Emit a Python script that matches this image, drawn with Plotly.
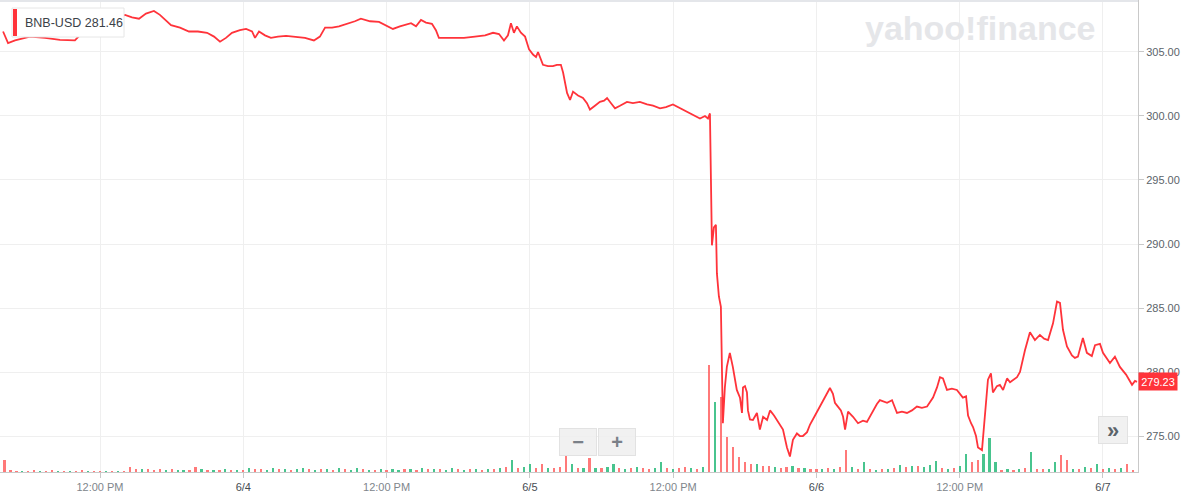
import plotly.graph_objects as go
import pandas as pd

# ---- price series (BNB-USD) ----
price_times = [
    "2023-06-03 03:53", "2023-06-03 04:18", "2023-06-03 04:53", "2023-06-03 06:08", "2023-06-03 07:24",
    "2023-06-03 08:39", "2023-06-03 09:54", "2023-06-03 10:30", "2023-06-03 12:00", "2023-06-03 13:15",
    "2023-06-03 14:06", "2023-06-03 14:41", "2023-06-03 15:16", "2023-06-03 15:51", "2023-06-03 16:31",
    "2023-06-03 17:01", "2023-06-03 17:22", "2023-06-03 17:57", "2023-06-03 18:42", "2023-06-03 19:27",
    "2023-06-03 20:12", "2023-06-03 20:58", "2023-06-03 21:33", "2023-06-03 22:03", "2023-06-03 22:33",
    "2023-06-03 23:03", "2023-06-03 23:43",
    "2023-06-04 00:14", "2023-06-04 00:44", "2023-06-04 00:59", "2023-06-04 01:19", "2023-06-04 01:49",
    "2023-06-04 02:19", "2023-06-04 02:54", "2023-06-04 03:35", "2023-06-04 04:20", "2023-06-04 05:10",
    "2023-06-04 05:55", "2023-06-04 06:25", "2023-06-04 06:51", "2023-06-04 07:26", "2023-06-04 08:01",
    "2023-06-04 08:46", "2023-06-04 09:21", "2023-06-04 09:51", "2023-06-04 10:37", "2023-06-04 11:22",
    "2023-06-04 11:57", "2023-06-04 12:32", "2023-06-04 13:07", "2023-06-04 13:33", "2023-06-04 14:03",
    "2023-06-04 14:28", "2023-06-04 14:53", "2023-06-04 15:18", "2023-06-04 15:48", "2023-06-04 16:08",
    "2023-06-04 16:23", "2023-06-04 17:19", "2023-06-04 18:29", "2023-06-04 19:24", "2023-06-04 20:15",
    "2023-06-04 20:55", "2023-06-04 21:25", "2023-06-04 21:50", "2023-06-04 22:10", "2023-06-04 22:25",
    "2023-06-04 22:40", "2023-06-04 22:55", "2023-06-04 23:15", "2023-06-04 23:36", "2023-06-04 23:56",
    "2023-06-05 00:16", "2023-06-05 00:31", "2023-06-05 00:41", "2023-06-05 00:56", "2023-06-05 01:06",
    "2023-06-05 01:31", "2023-06-05 01:56", "2023-06-05 02:16", "2023-06-05 02:36", "2023-06-05 02:47",
    "2023-06-05 02:57", "2023-06-05 03:07", "2023-06-05 03:22", "2023-06-05 03:37", "2023-06-05 04:02",
    "2023-06-05 04:27", "2023-06-05 04:47", "2023-06-05 05:02", "2023-06-05 05:27", "2023-06-05 05:52",
    "2023-06-05 06:13", "2023-06-05 06:28", "2023-06-05 06:48", "2023-06-05 07:08", "2023-06-05 07:33",
    "2023-06-05 08:08", "2023-06-05 08:38", "2023-06-05 09:13", "2023-06-05 09:49", "2023-06-05 10:19",
    "2023-06-05 10:54", "2023-06-05 11:24", "2023-06-05 11:59", "2023-06-05 12:34", "2023-06-05 13:10",
    "2023-06-05 13:40", "2023-06-05 14:15", "2023-06-05 14:40", "2023-06-05 14:55", "2023-06-05 15:05",
    "2023-06-05 15:10", "2023-06-05 15:15", "2023-06-05 15:25", "2023-06-05 15:35", "2023-06-05 15:40",
    "2023-06-05 15:50", "2023-06-05 16:00", "2023-06-05 16:05", "2023-06-05 16:10", "2023-06-05 16:20",
    "2023-06-05 16:30", "2023-06-05 16:45", "2023-06-05 17:00", "2023-06-05 17:20", "2023-06-05 17:36",
    "2023-06-05 17:46", "2023-06-05 17:51", "2023-06-05 18:01", "2023-06-05 18:11", "2023-06-05 18:16",
    "2023-06-05 18:26", "2023-06-05 18:41", "2023-06-05 19:01", "2023-06-05 19:16", "2023-06-05 19:32",
    "2023-06-05 19:52", "2023-06-05 20:07", "2023-06-05 20:27", "2023-06-05 20:42", "2023-06-05 20:57",
    "2023-06-05 21:12", "2023-06-05 21:32", "2023-06-05 21:47", "2023-06-05 22:02", "2023-06-05 22:22",
    "2023-06-05 22:37", "2023-06-05 22:52", "2023-06-05 23:13", "2023-06-05 23:28", "2023-06-05 23:53",
    "2023-06-06 00:18", "2023-06-06 00:43", "2023-06-06 00:53", "2023-06-06 01:08", "2023-06-06 01:23",
    "2023-06-06 01:33", "2023-06-06 01:48", "2023-06-06 02:03", "2023-06-06 02:14", "2023-06-06 02:24",
    "2023-06-06 02:39", "2023-06-06 03:04", "2023-06-06 03:29", "2023-06-06 03:54", "2023-06-06 04:14",
    "2023-06-06 04:44", "2023-06-06 05:04", "2023-06-06 05:19", "2023-06-06 05:55", "2023-06-06 06:20",
    "2023-06-06 06:45", "2023-06-06 07:10", "2023-06-06 07:35", "2023-06-06 08:00", "2023-06-06 08:25",
    "2023-06-06 08:50", "2023-06-06 09:16", "2023-06-06 09:46", "2023-06-06 10:06", "2023-06-06 10:21",
    "2023-06-06 10:36", "2023-06-06 10:56", "2023-06-06 11:21", "2023-06-06 11:46", "2023-06-06 12:16",
    "2023-06-06 12:32", "2023-06-06 12:37", "2023-06-06 12:42", "2023-06-06 12:57", "2023-06-06 13:07",
    "2023-06-06 13:22", "2023-06-06 13:32", "2023-06-06 13:52", "2023-06-06 14:07", "2023-06-06 14:22",
    "2023-06-06 14:37", "2023-06-06 14:47", "2023-06-06 15:07", "2023-06-06 15:22", "2023-06-06 15:38",
    "2023-06-06 15:58", "2023-06-06 16:13", "2023-06-06 16:33", "2023-06-06 16:48", "2023-06-06 17:03",
    "2023-06-06 17:18", "2023-06-06 17:28", "2023-06-06 17:53", "2023-06-06 18:18", "2023-06-06 18:43",
    "2023-06-06 19:04", "2023-06-06 19:24", "2023-06-06 19:49", "2023-06-06 20:09", "2023-06-06 20:24",
    "2023-06-06 20:39", "2023-06-06 20:59", "2023-06-06 21:24", "2023-06-06 21:39", "2023-06-06 21:54",
    "2023-06-06 22:19", "2023-06-06 22:39", "2023-06-06 23:04", "2023-06-06 23:20", "2023-06-06 23:45",
    "2023-06-07 00:00", "2023-06-07 00:20", "2023-06-07 00:35", "2023-06-07 01:00", "2023-06-07 01:25",
    "2023-06-07 01:56", "2023-06-07 02:26", "2023-06-07 02:41", "2023-06-07 02:51",
]
price_values = [
    306.6, 305.7, 305.9, 306.2, 306.1, 305.95, 305.9, 306.5, 307.2, 307.6,
    307.9, 307.7, 307.6, 308.0, 308.2, 307.9, 307.6, 307.1, 306.9, 306.6,
    306.6, 306.5, 306.2, 305.8, 306.1, 306.5, 306.7,
    306.8, 306.6, 306.1, 306.6, 306.3, 306.1, 306.2, 306.25, 306.2, 306.1,
    305.9, 306.2, 306.9, 306.9, 307.0, 307.2, 307.4, 307.6, 307.4, 307.35,
    307.1, 306.8, 307.0, 307.1, 307.25, 307.0, 307.5, 307.3, 307.2, 306.7,
    306.1, 306.1, 306.1, 306.2, 306.3, 306.5, 306.4, 305.9, 306.3, 307.25,
    306.5, 307.0, 306.5, 306.2, 305.2,
    304.8, 304.6, 305.0, 304.4, 304.0, 303.9, 303.9, 304.0, 304.0, 303.4,
    302.5, 301.8, 301.25, 301.9, 301.6, 301.4, 301.0, 300.5, 300.8, 301.1,
    301.2, 301.4, 301.0, 300.6, 300.8, 301.1, 301.0, 301.1, 300.9, 300.8,
    300.6, 300.7, 300.9, 300.6, 300.3, 300.1, 299.8, 300.0, 299.8, 300.2,
    294.0, 289.9, 291.3, 291.5, 287.7, 285.9, 285.1, 279.1, 276.0, 278.8,
    280.4, 281.5, 280.4, 278.6, 278.0, 276.8, 278.8, 278.9, 278.4, 277.0,
    276.3, 276.25, 276.8, 275.5, 276.5, 276.25, 277.0, 276.6, 276.25, 275.9,
    275.5, 274.1, 273.4, 274.7, 275.2, 275.0, 275.0, 275.3, 275.9, 276.6,
    277.3, 278.0, 278.4, 278.75, 278.3, 277.6, 277.3, 277.0, 276.5, 275.5,
    276.9, 276.5, 276.0, 276.2, 276.1, 277.0, 277.5, 277.8, 277.6, 277.8,
    276.8, 276.9, 276.8, 277.0, 277.3, 277.2, 277.3, 278.0, 278.8, 279.6,
    279.5, 278.6, 278.7, 278.6, 278.0, 278.1, 277.3, 276.6, 276.0, 275.7,
    275.0, 274.1, 273.9, 276.6, 279.4, 279.9, 278.4, 278.9, 279.0, 278.6,
    279.5, 279.2, 279.4, 279.6, 280.0, 281.2, 281.7, 283.1, 282.5, 282.9,
    282.6, 282.5, 283.8, 285.5, 285.4, 283.3, 282.0, 281.3, 281.1, 281.2,
    282.65, 281.5, 281.25, 282.1, 282.2, 281.5, 281.0, 280.7, 281.2, 280.4,
    279.8, 279.0, 279.3, 279.23,
]

# ---- volume (30-minute bars starting 2023-06-03 04:00), relative units ----
volume_start = "2023-06-03 04:00"
volume_values = [
    12, 2, 1, 1, 1, 2, 1, 1, 2, 1, 1, 1, 1, 2, 1, 1, 1, 1, 1, 1,
    1, 5, 3, 3, 3, 2, 3, 2, 3, 2, 2, 2, 5, 3, 2, 2, 2, 3, 2, 2,
    2, 4, 3, 3, 2, 4, 3, 3, 2, 3, 4, 3, 2, 3, 3, 2, 4, 3, 2, 4,
    3, 2, 2, 3, 2, 3, 2, 3, 3, 2, 4, 3, 3, 3, 2, 4, 3, 2, 3, 3,
    2, 3, 3, 4, 5, 12, 4, 5, 8, 4, 8, 4, 4, 5, 16, 8, 4, 4, 14, 4,
    4, 5, 8, 4, 3, 4, 5, 4, 3, 4, 10, 4, 3, 4, 5, 4, 3, 5, 107, 70,
    75, 35, 25, 15, 10, 8, 8, 6, 6, 5, 4, 5, 6, 4, 4, 3, 3, 3, 4, 3,
    5, 22, 5, 3, 10, 3, 2, 3, 3, 4, 7, 5, 6, 6, 5, 7, 11, 4, 3, 4,
    6, 18, 10, 12, 18, 34, 10, 2, 3, 2, 3, 4, 20, 3, 3, 3, 10, 17, 12, 3,
    3, 5, 4, 8, 3, 4, 3, 4, 8, 2,
]
volume_up = [
    0, 0, 0, 1, 0, 0, 1, 0, 0, 1, 0, 1, 0, 0, 1, 0, 0, 1, 0, 1,
    0, 0, 0, 1, 0, 0, 0, 1, 0, 1, 1, 0, 0, 1, 0, 1, 0, 1, 0, 1,
    0, 1, 0, 0, 1, 1, 0, 1, 0, 1, 1, 0, 1, 0, 1, 0, 1, 0, 1, 1,
    0, 1, 0, 1, 0, 1, 1, 0, 1, 0, 1, 0, 1, 0, 1, 1, 0, 1, 0, 1,
    0, 1, 0, 1, 0, 1, 0, 1, 1, 0, 0, 1, 0, 0, 0, 1, 0, 1, 0, 1,
    0, 1, 1, 0, 1, 0, 1, 0, 0, 1, 1, 0, 1, 0, 0, 1, 0, 1, 0, 1,
    0, 0, 0, 0, 0, 0, 1, 0, 0, 1, 0, 0, 1, 0, 1, 0, 0, 1, 0, 1,
    0, 0, 1, 0, 1, 0, 1, 0, 1, 0, 1, 0, 1, 0, 1, 1, 1, 0, 1, 0,
    1, 1, 0, 0, 1, 1, 1, 0, 1, 0, 1, 0, 1, 0, 0, 1, 1, 0, 0, 1,
    0, 1, 0, 1, 0, 1, 0, 1, 0, 0,
]

# ---- axis ticks ----
x_tick_vals = ["2023-06-03 12:00", "2023-06-04 00:00", "2023-06-04 12:00", "2023-06-05 00:00",
               "2023-06-05 12:00", "2023-06-06 00:00", "2023-06-06 12:00", "2023-06-07 00:00"]
x_tick_text = ["12:00 PM", "6/4", "12:00 PM", "6/5", "12:00 PM", "6/6", "12:00 PM", "6/7"]
y_tick_vals = [275, 280, 285, 290, 295, 300, 305]

symbol = "BNB-USD"
header_price = "281.46"
last_price = price_values[-1]

RED_LINE = "#ff333a"
GREEN_VOL = "rgba(52,190,130,0.9)"
RED_VOL = "rgba(255,98,98,0.85)"

volume_times = pd.date_range(volume_start, periods=len(volume_values), freq="30min")
volume_colors = [GREEN_VOL if u else RED_VOL for u in volume_up]

def tick_label(t):
    if "/" in t:
        return f'<span style="color:#464c52">{t}</span>'
    return f'<span style="color:#80868c">{t}</span>'

fig = go.Figure()
fig.add_trace(go.Bar(
    x=volume_times, y=volume_values, marker=dict(color=volume_colors, line=dict(width=0)),
    width=11 * 60 * 1000, yaxis="y", hoverinfo="skip", showlegend=False,
))
fig.add_trace(go.Scatter(
    x=pd.to_datetime(price_times), y=price_values, mode="lines",
    line=dict(color=RED_LINE, width=1.8), yaxis="y2", hoverinfo="skip", showlegend=False,
))

PW, PH = 1138.0, 472.0  # plot area size in px

fig.update_layout(
    width=1185, height=498,
    margin=dict(l=0, r=1185 - 1138, t=0, b=498 - 472),
    paper_bgcolor="white", plot_bgcolor="white",
    font=dict(family="Liberation Sans, Arial, sans-serif", size=11, color="#5b636a"),
    bargap=0,
    xaxis=dict(
        type="date",
        range=["2023-06-03 03:37:30", "2023-06-07 02:56"],
        tickvals=x_tick_vals, ticktext=[tick_label(t) for t in x_tick_text],
        showgrid=True, gridcolor="#efefef", gridwidth=1,
        showline=True, linecolor="#c9c9c9", linewidth=1,
        ticks="outside", ticklen=5, tickcolor="#c9c9c9",
        tickfont=dict(size=11), zeroline=False, automargin=False,
    ),
    yaxis=dict(visible=False, range=[0, 472], fixedrange=True),
    yaxis2=dict(
        overlaying="y", side="right", anchor="x",
        range=[272.19, 309.06],
        tickvals=y_tick_vals, ticktext=[f"{v:.2f}" for v in y_tick_vals],
        showgrid=True, gridcolor="#efefef", gridwidth=1,
        showline=True, linecolor="#c9c9c9", linewidth=1,
        ticks="outside", ticklen=5, tickcolor="#c9c9c9",
        tickfont=dict(size=11, color="#5b636a"), zeroline=False, automargin=False,
    ),
    shapes=[
        dict(type="line", xref="paper", yref="paper", x0=0, x1=1, y0=1 - 1 / PH, y1=1 - 1 / PH,
             line=dict(color="#e4e6ea", width=2)),
        # symbol label box + red marker
        dict(type="rect", xref="paper", yref="paper", x0=12 / PW, x1=124 / PW,
             y0=1 - 37 / PH, y1=1 - 8 / PH, fillcolor="white",
             line=dict(color="#e6e6e6", width=1), layer="above"),
        dict(type="rect", xref="paper", yref="paper", x0=13 / PW, x1=17 / PW,
             y0=1 - 36 / PH, y1=1 - 9 / PH, fillcolor=RED_LINE, line=dict(width=0), layer="above"),
    ],
    annotations=[
        # watermark
        dict(text="<b>yahoo!finance</b>", xref="paper", yref="paper", x=980 / PW, y=1 - 28 / PH,
             showarrow=False, font=dict(family="Liberation Sans", size=34, color="#e5e6e9"),
             xanchor="center", yanchor="middle"),
        # symbol label text
        dict(text=f"{symbol} {header_price}", xref="paper", yref="paper", x=23 / PW, y=1 - 22.5 / PH,
             xanchor="left", yanchor="middle", showarrow=False, align="left",
             font=dict(family="Liberation Sans", size=12.5, color="#3b4148")),
        # last price tag
        dict(text=f"{last_price:.2f}", xref="paper", yref="y2", x=1, y=last_price,
             xanchor="left", yanchor="middle", showarrow=False,
             bgcolor=RED_LINE, borderpad=2, width=34, height=13,
             font=dict(family="Liberation Sans", size=11, color="white")),
        # zoom buttons
        dict(text="<b>−</b>", xref="paper", yref="paper", x=578 / PW, y=1 - 442 / PH,
             xanchor="center", yanchor="middle", showarrow=False, width=34, height=24,
             bgcolor="rgba(238,238,238,0.85)", bordercolor="#e2e2e2", borderwidth=1,
             font=dict(size=20, color="#7a8088")),
        dict(text="<b>+</b>", xref="paper", yref="paper", x=617 / PW, y=1 - 442 / PH,
             xanchor="center", yanchor="middle", showarrow=False, width=34, height=24,
             bgcolor="rgba(238,238,238,0.85)", bordercolor="#e2e2e2", borderwidth=1,
             font=dict(size=20, color="#7a8088")),
        # scroll button
        dict(text="<b>»</b>", xref="paper", yref="paper", x=1113 / PW, y=1 - 430 / PH,
             xanchor="center", yanchor="middle", showarrow=False, width=26, height=24,
             bgcolor="rgba(240,240,240,0.9)", bordercolor="#e2e2e2", borderwidth=1,
             font=dict(size=22, color="#5b636a")),
    ],
)

fig.write_html(
    "out.html",
    config={"displayModeBar": False, "staticPlot": True},
    post_script="document.body.style.margin='0';document.body.style.overflow='hidden';",
)
